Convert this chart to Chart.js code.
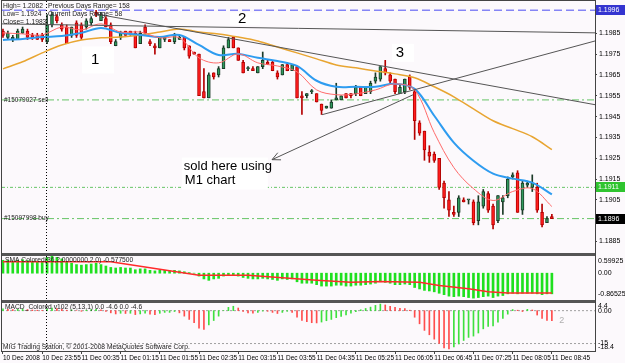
<!DOCTYPE html>
<html>
<head>
<meta charset="utf-8">
<script src="https://cdn.jsdelivr.net/npm/chart.js@4.4.0/dist/chart.umd.min.js"></script>
<style>
  html, body { margin: 0; padding: 0; background: #fcf9fc; }
  #wrap { position: relative; width: 625px; height: 363px; }
</style>
</head>
<body>
<div id="wrap"><canvas id="chart" width="625" height="363"></canvas></div>
<script>
// EURUSD M5, 10 Dec 23:15 .. 11 Dec 08:45 (bar index 0..112)
const openP = [1.1986,1.1983,1.1982,1.1982,1.1985,1.1986,1.1984,1.1984,1.1984,1.1981,1.1989,1.1993,1.1989,1.1988,1.1984,1.1990,1.1989,1.1988,1.1990,1.1995,
  1.1991,1.1992,1.1989,1.1979,1.1983,1.1986,1.1986,1.1985,1.1980,1.1988,1.1981,1.1979,1.1978,1.1982,1.1982,1.1981,1.1982,1.1983,1.1979,1.1976,
  1.1975,1.1957,1.1954,1.1966,1.1965,1.1968,1.1978,1.1983,1.1978,1.1971,1.1968,1.1968,1.1966,1.1969,1.1971,1.1971,1.1966,1.1965,1.1970,1.1967,
  1.1969,1.1955,1.1955,1.1957,1.1956,1.1951,1.1949,1.1949,1.1953,1.1953,1.1956,1.1956,1.1956,1.1959,1.1956,1.1957,1.1962,1.1963,1.1968,1.1965,
  1.1963,1.1956,1.1957,1.1964,1.1957,1.1942,1.1938,1.1928,1.1927,1.1925,1.1913,1.1905,1.1899,1.1899,1.1905,1.1905,1.1904,1.1895,1.1902,1.1908,
  1.1902,1.1895,1.1904,1.1907,1.1916,1.1918,1.1900,1.1912,1.1911,1.1911,1.1899,1.1894,1.1897];
const highP = [1.1987,1.1986,1.1984,1.1987,1.1988,1.1987,1.1985,1.1985,1.1985,1.1994,1.1995,1.1994,1.1990,1.1989,1.1988,1.1991,1.1990,1.1992,1.1993,1.1996,
  1.1995,1.1993,1.1990,1.1982,1.1986,1.1986,1.1986,1.1986,1.1986,1.1989,1.1982,1.1980,1.1983,1.1983,1.1982,1.1985,1.1984,1.1983,1.1979,1.1976,
  1.1975,1.1968,1.1966,1.1966,1.1969,1.1979,1.1983,1.1983,1.1978,1.1972,1.1969,1.1969,1.1969,1.1976,1.1972,1.1972,1.1967,1.1970,1.1971,1.1970,
  1.1969,1.1957,1.1956,1.1958,1.1956,1.1951,1.1950,1.1953,1.1961,1.1955,1.1956,1.1956,1.1960,1.1959,1.1959,1.1962,1.1966,1.1969,1.1972,1.1966,
  1.1963,1.1960,1.1963,1.1965,1.1958,1.1943,1.1938,1.1931,1.1928,1.1925,1.1914,1.1909,1.1902,1.1907,1.1906,1.1905,1.1905,1.1907,1.1910,1.1909,
  1.1903,1.1907,1.1907,1.1916,1.1918,1.1919,1.1914,1.1914,1.1917,1.1913,1.1903,1.1897,1.1898];
const lowP = [1.1983,1.1982,1.1981,1.1982,1.1985,1.1982,1.1982,1.1982,1.1981,1.1980,1.1988,1.1990,1.1986,1.1980,1.1983,1.1983,1.1982,1.1987,1.1989,1.1993,
  1.1991,1.1988,1.1980,1.1979,1.1982,1.1984,1.1984,1.1978,1.1980,1.1984,1.1979,1.1975,1.1978,1.1981,1.1981,1.1980,1.1982,1.1977,1.1973,1.1975,
  1.1955,1.1954,1.1954,1.1963,1.1964,1.1968,1.1978,1.1978,1.1972,1.1966,1.1967,1.1967,1.1966,1.1968,1.1970,1.1967,1.1963,1.1965,1.1967,1.1967,
  1.1954,1.1946,1.1954,1.1956,1.1952,1.1946,1.1949,1.1949,1.1953,1.1953,1.1954,1.1954,1.1955,1.1955,1.1956,1.1956,1.1961,1.1962,1.1965,1.1961,
  1.1956,1.1956,1.1956,1.1958,1.1934,1.1936,1.1924,1.1923,1.1923,1.1910,1.1901,1.1897,1.1897,1.1897,1.1904,1.1903,1.1893,1.1893,1.1901,1.1899,
  1.1891,1.1894,1.1898,1.1906,1.1915,1.1899,1.1898,1.1911,1.1909,1.1899,1.1892,1.1894,1.1896];
const closeP = [1.1984,1.1985,1.1983,1.1986,1.1987,1.1983,1.1983,1.1982,1.1982,1.1989,1.1994,1.1991,1.1987,1.1980,1.1988,1.1984,1.1983,1.1991,1.1992,1.1994,
  1.1994,1.1988,1.1981,1.1981,1.1985,1.1984,1.1985,1.1978,1.1985,1.1985,1.1980,1.1978,1.1983,1.1983,1.1981,1.1984,1.1983,1.1978,1.1974,1.1975,
  1.1955,1.1954,1.1965,1.1964,1.1968,1.1978,1.1982,1.1978,1.1972,1.1966,1.1968,1.1967,1.1969,1.1972,1.1970,1.1967,1.1964,1.1970,1.1967,1.1970,
  1.1954,1.1954,1.1956,1.1957,1.1952,1.1948,1.1950,1.1952,1.1954,1.1955,1.1954,1.1955,1.1959,1.1955,1.1959,1.1961,1.1964,1.1969,1.1966,1.1962,
  1.1957,1.1959,1.1963,1.1959,1.1943,1.1937,1.1929,1.1926,1.1924,1.1911,1.1906,1.1900,1.1898,1.1906,1.1904,1.1905,1.1894,1.1904,1.1909,1.1900,
  1.1893,1.1907,1.1906,1.1915,1.1917,1.1899,1.1913,1.1913,1.1913,1.1900,1.1893,1.1896,1.1896];

// moving averages, read every 4 bars
const maIdx = [0,4,8,12,16,20,24,28,32,36,40,44,48,52,56,60,64,68,72,76,80,84,88,92,96,100,104,108,112];
const maFast = [1.19852,1.19847,1.19842,1.19880,1.19866,1.19895,1.19856,1.19856,1.19828,1.19828,1.19732,1.19708,1.19751,1.19708,1.19693,
  1.19665,1.19578,1.19555,1.19559,1.19578,1.19607,1.19578,1.19373,1.19205,1.19104,1.19047,1.19090,1.19104,1.19018];
const maMid = [1.19818,1.19823,1.19832,1.19837,1.19852,1.19875,1.19852,1.19842,1.19832,1.19842,1.19794,1.19746,1.19751,1.19732,1.19717,
  1.19693,1.19622,1.19593,1.19593,1.19593,1.19607,1.19583,1.19454,1.19325,1.19238,1.19176,1.19152,1.19133,1.19076];
const maSlow = [1.19679,1.19713,1.19756,1.19794,1.19818,1.19828,1.19832,1.19842,1.19856,1.19871,1.19856,1.19847,1.19832,1.19813,1.19784,
  1.19756,1.19727,1.19698,1.19684,1.19669,1.19655,1.19636,1.19593,1.19545,1.19487,1.19430,1.19392,1.19353,1.19291];

// SMA Colored sub window
const smaHist = [0.45,0.45,0.42,0.45,0.47,0.44,0.42,0.42,0.40,0.55,0.60,0.55,0.50,0.40,0.35,0.30,0.28,0.30,0.32,0.35,
  0.30,0.25,0.20,0.18,0.20,0.18,0.18,0.12,0.15,0.15,0.10,0.08,0.10,0.10,0.08,0.10,0.08,0.05,0.02,0.00,
  -0.10,-0.20,-0.25,-0.20,-0.18,-0.10,-0.05,-0.05,-0.10,-0.15,-0.18,-0.20,-0.20,-0.18,-0.20,-0.22,-0.25,-0.20,-0.22,-0.20,
  -0.30,-0.35,-0.35,-0.35,-0.40,-0.45,-0.45,-0.45,-0.42,-0.42,-0.45,-0.45,-0.42,-0.42,-0.40,-0.38,-0.35,-0.30,-0.32,-0.35,
  -0.40,-0.40,-0.38,-0.40,-0.50,-0.55,-0.60,-0.62,-0.65,-0.70,-0.75,-0.80,-0.82,-0.80,-0.82,-0.85,-0.87,-0.85,-0.82,-0.80,
  -0.85,-0.80,-0.78,-0.72,-0.70,-0.72,-0.70,-0.70,-0.70,-0.72,-0.75,-0.72,-0.72];
const smaSigIdx = [0,22,40,50,64,71,77,85,89,95,99,103,112];
const smaSig = [0.40,0.40,-0.07,-0.07,-0.25,-0.32,-0.29,-0.32,-0.43,-0.54,-0.65,-0.69,-0.69];

// MACD_Colored sub window
const macdHist = [0.8,0.6,0.5,0.6,0.7,0.5,0.3,0.2,0.1,0.8,1.2,0.9,0.6,0.2,0.3,0.0,-0.3,0.2,0.5,0.6,
  0.4,-0.3,-1.0,-1.5,-1.2,-1.3,-1.2,-1.8,-1.5,-1.2,-1.6,-1.8,-1.2,-0.8,-0.8,-0.4,-1.0,-2.5,-4.0,-5.5,
  -8.0,-8.6,-6.5,-4.5,-2.5,0.0,1.5,2.0,1.2,-0.3,-1.0,-1.2,-0.8,-0.2,-0.3,-0.8,-1.3,-0.8,-0.3,-0.8,
  -3.0,-4.5,-5.0,-5.5,-5.6,-5.2,-4.6,-4.0,-3.2,-2.6,-2.0,-1.2,-0.5,0.4,1.0,1.6,2.4,3.0,2.6,2.0,
  1.5,1.1,1.0,0.2,-3.0,-6.0,-9.0,-11.0,-13.0,-15.0,-17.0,-17.5,-16.5,-15.2,-13.6,-12.2,-11.6,-10.2,-8.3,-7.2,
  -7.0,-5.2,-3.6,-1.6,0.5,0.2,-0.4,0.6,0.3,-2.0,-3.5,-4.4,-4.6];

// axes
const tickIdx = [0,8,16,24,32,40,48,56,64,72,80,88,96,104,112];
const tickLabels = ['10 Dec 2008','10 Dec 23:55','11 Dec 00:35','11 Dec 01:15','11 Dec 01:55','11 Dec 02:35','11 Dec 03:15',
  '11 Dec 03:55','11 Dec 04:35','11 Dec 05:25','11 Dec 06:05','11 Dec 06:45','11 Dec 07:25','11 Dec 08:05','11 Dec 08:45'];
const priceTicks = [1.1985,1.1975,1.1965,1.1955,1.1945,1.1935,1.1925,1.1915,1.1905,1.1885];
const smaLabels = [[0.59925,'0.59925'],[0,'0.00'],[-0.86525,'-0.86525']];
const macdLabels = [[4.4,'4.4'],[0,'0.00'],[-15,'-15'],[-18.4,'-18.4']];

// levels and drawn objects (bar index, price)
const highLevel = 1.1996, sellLevel = 1.1953, tpLevel = 1.1911, buyLevel = 1.1896;
const trendFlat = [[-0.2,1.19895],[120.8,1.19852]];
const trendDown = [[19,1.19943],[120.8,1.19507]];
const trendUp = [[65.1,1.19459],[120.8,1.19813]];
const arrowLine = [[83.7,1.19555],[54.9,1.19243]];
const daySeparator = 8.8;

const bars = openP.map((_, i) => i);
const bull = bars.map(i => closeP[i] >= openP[i]);
const upFill = '#2f9a5d', upEdge = '#1b3b28', dnFill = '#ff1e1e', dnEdge = '#b40000';

const pts = (idx, vals) => idx.map((v, k) => ({x: v, y: vals[k]}));
const seg = pairs => pairs.map(p => ({x: p[0], y: p[1]}));
const hline = v => [{x: -0.2, y: v}, {x: 120.8, y: v}];
const font8 = {family: 'Liberation Sans', size: 7};
const fontX = {family: 'Liberation Sans', size: 6.5};

const lineDs = (label, data, color, width, axis, extra) => Object.assign({
  type: 'line', label, data, yAxisID: axis, borderColor: color, borderWidth: width,
  pointRadius: 0, fill: false, tension: 0
}, extra || {});

const datasets = [
  lineDs('high', hline(highLevel), '#8585f5', 1.5, 'y', {borderDash: [8, 4], order: 20}),
  lineDs('sell', hline(sellLevel), '#66c466', 1, 'y', {borderDash: [7, 3, 2, 3], order: 20}),
  lineDs('tp', hline(tpLevel), '#66c466', 1, 'y', {borderDash: [3, 2, 1, 2], order: 20}),
  lineDs('buy', hline(buyLevel), '#66c466', 1, 'y', {borderDash: [7, 3, 2, 3], order: 20}),
  {
    type: 'bar', label: 'wick', yAxisID: 'y', order: 12, grouped: false,
    data: bars.map(i => ({x: i, y: [lowP[i], highP[i]]})),
    backgroundColor: bars.map(i => bull[i] ? upEdge : dnEdge), barThickness: 1
  },
  {
    type: 'bar', label: 'body', yAxisID: 'y', order: 11, grouped: false,
    data: bars.map(i => ({x: i, y: [openP[i], closeP[i]]})),
    backgroundColor: bars.map(i => bull[i] ? upFill : dnFill),
    borderColor: bars.map(i => bull[i] ? upEdge : dnEdge),
    borderWidth: 1, borderSkipped: false, barThickness: 3, minBarLength: 1
  },
  lineDs('slow', pts(maIdx, maSlow), '#e8a531', 1.5, 'y', {tension: 0.35, order: 6}),
  lineDs('mid', pts(maIdx, maMid), '#2e9cf0', 2, 'y', {tension: 0.35, order: 5}),
  lineDs('fast', pts(maIdx, maFast), '#ff6b6b', 1, 'y', {tension: 0.35, order: 4}),
  lineDs('flat', seg(trendFlat), '#555555', 1, 'y', {order: 3}),
  lineDs('down', seg(trendDown), '#555555', 1, 'y', {order: 3}),
  lineDs('up', seg(trendUp), '#555555', 1, 'y', {order: 3}),
  lineDs('arrow', seg(arrowLine), '#555555', 1, 'y', {order: 3}),
  {
    type: 'bar', label: 'smaHist', yAxisID: 'ySma', order: 12, grouped: false,
    data: bars.map(i => ({x: i, y: smaHist[i]})),
    backgroundColor: '#1fe01f', barThickness: 2
  },
  lineDs('smaSig', pts(smaSigIdx, smaSig), '#ff2a2a', 1.5, 'ySma', {order: 4}),
  lineDs('macd0', [{x: -0.2, y: 0}, {x: 120.8, y: 0}], '#a0a0a0', 1, 'yMacd', {borderDash: [2, 2], order: 20}),
  lineDs('macd15', [{x: -0.2, y: -15}, {x: 120.8, y: -15}], '#a0a0a0', 1, 'yMacd', {borderDash: [2, 2], order: 20}),
  {
    type: 'bar', label: 'macd', yAxisID: 'yMacd', order: 12, grouped: false,
    data: bars.map(i => ({x: i, y: macdHist[i]})),
    backgroundColor: bars.map(i => (i > 0 && macdHist[i] < macdHist[i - 1]) ? '#ff4d4d' : '#3ee03e'),
    barThickness: 1
  }
];

// free text, boxes and pane frames
const decor = {
  id: 'decor',
  beforeDraw(chart) {
    const ctx = chart.ctx;
    ctx.save();
    ctx.fillStyle = '#fcf9fc';
    ctx.fillRect(0, 0, chart.width, chart.height);
    ctx.restore();
  },
  afterDatasetsDraw(chart) {
    const {ctx, chartArea: a, scales: {x, y, ySma, yMacd}} = chart;
    ctx.save();

    // day separator
    const sx = Math.round(x.getPixelForValue(daySeparator)) + 0.5;
    ctx.strokeStyle = '#000';
    ctx.lineWidth = 1;
    ctx.setLineDash([1, 2]);
    ctx.beginPath(); ctx.moveTo(sx, a.top); ctx.lineTo(sx, a.bottom); ctx.stroke();
    ctx.setLineDash([]);

    // arrow head at the end of the arrow line
    const ax = x.getPixelForValue(arrowLine[1][0]), ay = y.getPixelForValue(arrowLine[1][1]);
    const bx = x.getPixelForValue(arrowLine[0][0]), by = y.getPixelForValue(arrowLine[0][1]);
    const ang = Math.atan2(by - ay, bx - ax);
    ctx.strokeStyle = '#555';
    ctx.beginPath();
    ctx.moveTo(ax + 9 * Math.cos(ang - 0.45), ay + 9 * Math.sin(ang - 0.45));
    ctx.lineTo(ax, ay);
    ctx.lineTo(ax + 9 * Math.cos(ang + 0.45), ay + 9 * Math.sin(ang + 0.45));
    ctx.stroke();

    // wave numbers, each on a white patch
    ctx.font = '15px "Liberation Sans"';
    ctx.textAlign = 'center';
    ctx.textBaseline = 'middle';
    [['1', 18.8, 1.19722, 32, 27], ['2', 48.8, 1.19919, 30, 13], ['3', 81, 1.19756, 22, 18]].forEach(([t, i, p, w, h]) => {
      const px = x.getPixelForValue(i), py = y.getPixelForValue(p);
      ctx.fillStyle = '#ffffff';
      ctx.fillRect(px - w / 2 + 3, py - h / 2, w, h);
      ctx.fillStyle = '#000';
      ctx.fillText(t, px, py);
    });

    // note
    const nx = x.getPixelForValue(36.9), ny = y.getPixelForValue(1.1921);
    ctx.fillStyle = '#ffffff';
    ctx.fillRect(nx - 2, ny - 9, 86, 32);
    ctx.fillStyle = '#000';
    ctx.font = '13px "Liberation Sans"';
    ctx.textAlign = 'left';
    ctx.fillText('sold here using', nx, ny);
    ctx.fillText('M1 chart', nx + 1, ny + 14);

    // order labels
    ctx.font = '6.5px "Liberation Sans"';
    ctx.fillStyle = '#222';
    ctx.fillText('#15079027 sell', a.left + 2, y.getPixelForValue(sellLevel));
    ctx.fillText('#15097998 buy', a.left + 2, y.getPixelForValue(buyLevel));

    // info block
    ctx.font = '6.7px "Liberation Sans"';
    ctx.textBaseline = 'top';
    ctx.fillText('High= 1.2082', a.left + 1, a.top + 2);
    ctx.fillText('Low= 1.1924', a.left + 1, a.top + 10);
    ctx.fillText('Close= 1.1983', a.left + 1, a.top + 18);
    ctx.fillText('Previous Days Range= 158', a.left + 46, a.top + 2);
    ctx.fillText('Current Days Range= 58', a.left + 46, a.top + 10);

    // sub window captions
    ctx.fillText('SMA Colored(36,2,0000000,2.0) -0.577500', a.left + 3, ySma.top + 3);
    ctx.fillText('MACD_Colored v102 (5,13,1) 0.0 -4.6 0.0 -4.6', a.left + 3, yMacd.top + 3);
    ctx.textBaseline = 'bottom';
    ctx.fillText('MIG Trading Station, \u00a9 2001-2008 MetaQuotes Software Corp.', a.left + 1, a.bottom - 1);
    ctx.fillStyle = '#b0b0b0';
    ctx.font = '9px "Liberation Sans"';
    ctx.textBaseline = 'middle';
    ctx.fillText('2', x.getPixelForValue(113.5), yMacd.getPixelForValue(-4.6));

    // pane frames
    ctx.fillStyle = '#555';
    ctx.fillRect(a.left - 1, ySma.top - 1, a.right - a.left + 2, 3);
    ctx.fillRect(a.left - 1, yMacd.top - 1, a.right - a.left + 2, 3);
    ctx.strokeStyle = '#444';
    ctx.lineWidth = 1;
    ctx.strokeRect(a.left - 0.5, a.top - 0.5, a.right - a.left + 1, a.bottom - a.top + 1);
    ctx.restore();
  },
  afterDraw(chart) {
    const {ctx, chartArea: a, scales: {y, ySma, yMacd}} = chart;
    ctx.save();
    ctx.font = '7px "Liberation Sans"';
    ctx.textBaseline = 'middle';
    ctx.textAlign = 'left';
    // sub window scale labels
    const paneLabels = (scale, list) => list.forEach(([v, t], k) => {
      let py = scale.getPixelForValue(v);
      if (k === 0) py += 5;
      if (k === list.length - 1) py -= 4;
      ctx.fillStyle = '#000';
      ctx.fillText(t, a.right + 3, py);
    });
    paneLabels(ySma, smaLabels);
    paneLabels(yMacd, macdLabels);
    // current value boxes on the price scale
    [[highLevel, '#3434d0', '#fff'], [tpLevel, '#2fc42f', '#fff'], [buyLevel, '#000', '#fff']].forEach(([v, bg, fg]) => {
      const py = Math.round(y.getPixelForValue(v));
      ctx.fillStyle = bg;
      ctx.fillRect(a.right + 1, py - 5, 29, 10);
      ctx.fillStyle = fg;
      ctx.fillText(v.toFixed(4), a.right + 3, py);
    });
    ctx.restore();
  }
};

const sideAxis = (extra) => Object.assign({
  type: 'linear', position: 'right', stack: 'panes', offset: false,
  afterFit: s => { s.width = 30; s.paddingTop = 0; s.paddingBottom = 0; },
  border: {color: '#444'}
}, extra);

new Chart(document.getElementById('chart'), {
  type: 'bar',
  data: {datasets},
  options: {
    responsive: false,
    animation: false,
    events: [],
    layout: {padding: {left: 2, top: 1, right: 0, bottom: 0}},
    plugins: {legend: {display: false}, tooltip: {enabled: false}},
    scales: {
      x: {
        type: 'linear', min: -0.2, max: 120.8, position: 'bottom', offset: false,
        afterBuildTicks: s => { s.ticks = tickIdx.map(v => ({value: v})); },
        afterFit: s => { s.height = 12; s.paddingLeft = 0; s.paddingRight = 0; },
        ticks: {
          callback: (v, k) => tickLabels[k], autoSkip: false, maxRotation: 0,
          align: 'start', font: fontX, color: '#000', padding: 0
        },
        grid: {drawOnChartArea: false, offset: false, tickLength: 3, color: '#444'},
        border: {color: '#444'}
      },
      y: sideAxis({
        stackWeight: 253, min: 1.1879, max: 1.20005,
        afterBuildTicks: s => { s.ticks = priceTicks.map(v => ({value: v})); },
        ticks: {callback: v => v.toFixed(4), font: font8, color: '#000', padding: 2},
        grid: {drawOnChartArea: false, tickLength: 2, color: '#444'}
      }),
      ySma: sideAxis({
        stackWeight: 47, min: -0.970, max: 0.669,
        ticks: {display: false}, grid: {display: false}
      }),
      yMacd: sideAxis({
        stackWeight: 50, min: -18.4, max: 4.4,
        ticks: {display: false}, grid: {display: false}
      })
    }
  },
  plugins: [decor]
});
</script>
</body>
</html>
